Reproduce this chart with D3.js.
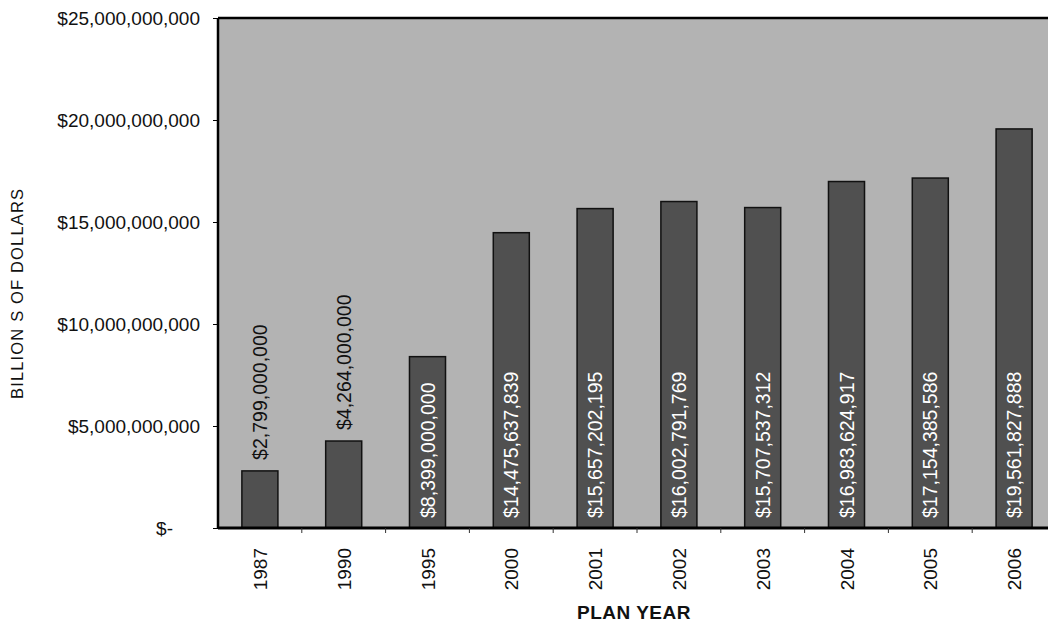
<!DOCTYPE html>
<html>
<head>
<meta charset="utf-8">
<script src="https://cdn.jsdelivr.net/npm/d3@7"></script>
<style>
  body { margin: 0; background: #fff; }
  text { font-family: "Liberation Sans", Arial, sans-serif; }
</style>
</head>
<body>
<div id="chart"></div>
<script>
// data
var years = ["1987", "1990", "1995", "2000", "2001", "2002", "2003", "2004", "2005", "2006"];
var amounts = [2799000000, 4264000000, 8399000000, 14475637839, 15657202195,
  16002791769, 15707537312, 16983624917, 17154385586, 19561827888];
var yTicks = [0, 5e9, 10e9, 15e9, 20e9, 25e9];

var svgWidth = 1048;
var svgHeight = 624;

var margin = { top: 18, right: -10, bottom: 96, left: 218 };
var width = svgWidth - margin.left - margin.right;
var height = svgHeight - margin.top - margin.bottom;

var svg = d3.select("#chart")
  .append("svg")
  .attr("width", svgWidth)
  .attr("height", svgHeight);

var chartGroup = svg.append("g")
  .attr("transform", `translate(${margin.left}, ${margin.top})`);

var xScale = d3.scaleBand()
  .domain(years)
  .range([0, 838])
  .paddingInner(0.57)
  .paddingOuter(0.285);

var yScale = d3.scaleLinear()
  .domain([0, 25e9])
  .range([height, 0]);

var money = d3.format(",");

// plot background
chartGroup.append("rect")
  .attr("x", 0)
  .attr("y", 0)
  .attr("width", width)
  .attr("height", height)
  .attr("fill", "#b3b3b3");

// bars
chartGroup.selectAll(".bar")
  .data(amounts)
  .enter()
  .append("rect")
  .attr("class", "bar")
  .attr("x", (d, i) => xScale(years[i]))
  .attr("y", d => yScale(d))
  .attr("width", xScale.bandwidth())
  .attr("height", d => height - yScale(d))
  .attr("fill", "#505050")
  .attr("stroke", "#111")
  .attr("stroke-width", 1.5);

// frame: left, top, bottom
chartGroup.append("line")
  .attr("x1", 0).attr("x2", 0)
  .attr("y1", 0).attr("y2", height)
  .attr("stroke", "#000").attr("stroke-width", 2.5);
chartGroup.append("line")
  .attr("x1", 0).attr("x2", width)
  .attr("y1", 0).attr("y2", 0)
  .attr("stroke", "#000").attr("stroke-width", 2.5);
chartGroup.append("line")
  .attr("x1", 0).attr("x2", width)
  .attr("y1", height).attr("y2", height)
  .attr("stroke", "#000").attr("stroke-width", 3);

// y axis
var leftAxis = d3.axisLeft(yScale)
  .tickValues(yTicks)
  .tickSize(5)
  .tickPadding(14)
  .tickFormat(d => d === 0 ? "$-" : "$" + money(d));

var yAxis = chartGroup.append("g").call(leftAxis);
yAxis.select(".domain").remove();
yAxis.selectAll("text")
  .attr("font-size", 19)
  .attr("fill", "#111")
  .attr("x", d => d === 0 ? -45 : -18);

// x axis: small ticks at band edges, labels rotated
var step = xScale.step();
chartGroup.selectAll(".xtick")
  .data(years.slice(1))
  .enter()
  .append("line")
  .attr("x1", d => xScale(d) - step * xScale.paddingInner() / 2)
  .attr("x2", d => xScale(d) - step * xScale.paddingInner() / 2)
  .attr("y1", height)
  .attr("y2", height + 5)
  .attr("stroke", "#333");

chartGroup.selectAll(".xlabel")
  .data(years)
  .enter()
  .append("text")
  .attr("transform", d => `translate(${xScale(d) + xScale.bandwidth() / 2 + 7}, ${height + 20}) rotate(-90)`)
  .attr("text-anchor", "end")
  .attr("font-size", 19)
  .attr("fill", "#111")
  .text(d => d);

// value labels: above the short bars, inside the tall ones
chartGroup.selectAll(".vlabel")
  .data(amounts)
  .enter()
  .append("text")
  .attr("transform", function (d, i) {
    var cx = xScale(years[i]) + xScale.bandwidth() / 2 + 7;
    var y0 = d < 5e9 ? yScale(d) - 11 : height - 10;
    return `translate(${cx}, ${y0}) rotate(-90)`;
  })
  .attr("text-anchor", "start")
  .attr("font-size", 19.5)
  .attr("fill", d => d < 5e9 ? "#111" : "#fff")
  .text(d => "$" + money(d));

// axis titles
svg.append("text")
  .attr("transform", "translate(23, 294) rotate(-90)")
  .attr("text-anchor", "middle")
  .attr("font-size", 16.5)
  .attr("textLength", 210)
  .attr("lengthAdjust", "spacing")
  .attr("fill", "#111")
  .text("BILLION S OF DOLLARS");

svg.append("text")
  .attr("x", 634)
  .attr("y", 619)
  .attr("text-anchor", "middle")
  .attr("font-size", 19)
  .attr("font-weight", "bold")
  .attr("letter-spacing", 0.5)
  .attr("fill", "#111")
  .text("PLAN YEAR");
</script>
</body>
</html>
